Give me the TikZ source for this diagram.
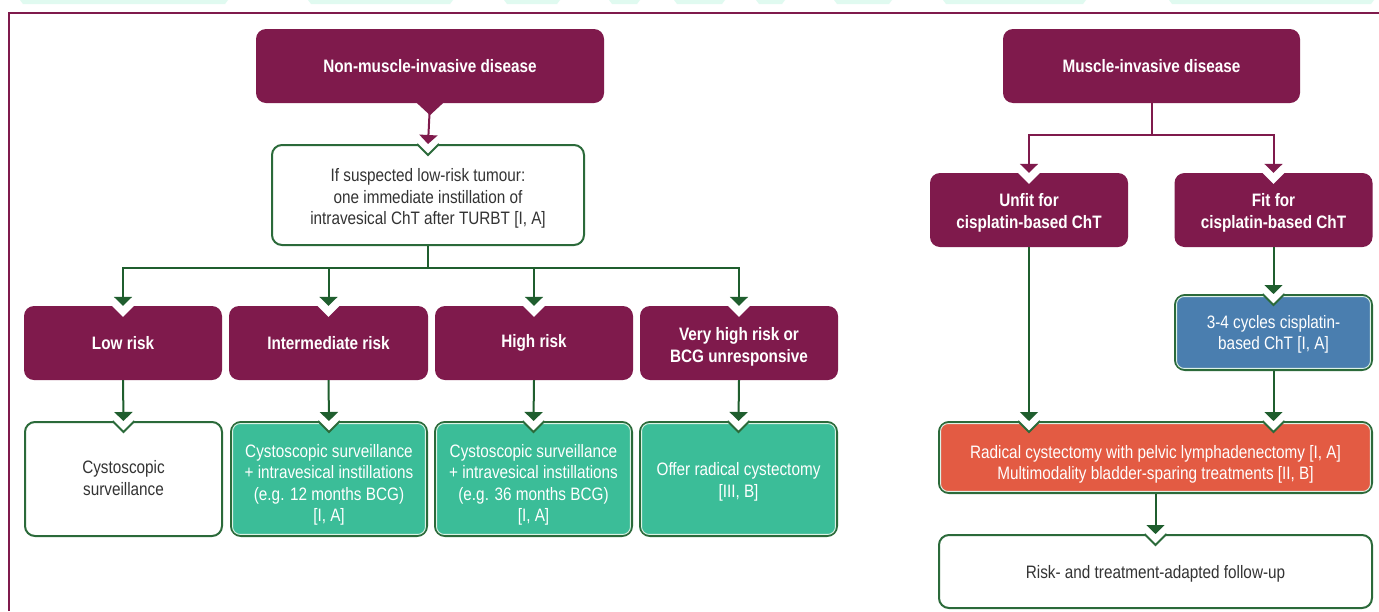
\documentclass[tikz,border=0pt]{standalone}
\usepackage{fontspec}
\setmainfont{Liberation Sans}[FakeStretch=0.85]
\usetikzlibrary{arrows.meta,calc}
\definecolor{maroon}{HTML}{7F1A4C}
\definecolor{dgreen}{HTML}{2B6A3A}
\definecolor{agreen}{HTML}{1F5E2E}
\definecolor{tealc}{HTML}{3BBD98}
\definecolor{bluec}{HTML}{4A7EAF}
\definecolor{redc}{HTML}{E35B43}
\definecolor{txt}{HTML}{333333}
\definecolor{inl}{HTML}{DDF2E6}
\definecolor{pale}{HTML}{E0FAF0}
\tikzset{
  base/.style={rounded corners=10pt, align=center, inner sep=0pt,
    font=\fontsize{18}{21.5}\selectfont},
  mbox/.style={base, fill=maroon, text=white, font=\fontsize{18}{21.5}\selectfont\bfseries},
  wbox/.style={base, fill=white, draw=dgreen, line width=2pt, text=txt},
  tbox/.style={base, fill=tealc, draw=dgreen, line width=2pt, text=white},
  bbox/.style={base, fill=bluec, draw=dgreen, line width=2pt, text=white},
  rbox/.style={base, fill=redc, draw=dgreen, line width=2pt, text=white},
  garrow/.style={draw=agreen, line width=2pt, -{Triangle[width=18pt,length=9pt]}},
  marrow/.style={draw=maroon, line width=2pt, -{Triangle[width=18pt,length=9pt]}},
  gline/.style={draw=agreen, line width=2pt},
  mline/.style={draw=maroon, line width=2pt},
  vline/.style={draw=dgreen, line width=2pt},
}
% text block lowered by #1 without changing its reported size
\newcommand\dropt[2]{\raisebox{-#1}[\height][\depth]{\begin{tabular}{@{}c@{}}#2\end{tabular}}}
\newcommand\innerline[1]{\draw[inl, line width=0.9pt, rounded corners=7.5pt]
  ([shift={(2.6pt,-2.6pt)}]#1.north west) rectangle ([shift={(-2.6pt,2.6pt)}]#1.south east);}
\newcommand\notch[2]{%
  \fill[white] ([shift={(-13.5pt,2.5pt)}]#1) -- ([shift={(13.5pt,2.5pt)}]#1) -- ([shift={(0pt,-11pt)}]#1) -- cycle;
  \draw[#2] ([shift={(-11pt,0pt)}]#1) -- ([shift={(0pt,-11pt)}]#1) -- ([shift={(11pt,0pt)}]#1);}
\begin{document}
\begin{tikzpicture}[x=1pt,y=-1pt]
\useasboundingbox (0,0) rectangle (1379,611);
\fill[white] (0,0) rectangle (1379,611);
% faint strip at the top
\foreach \a/\b in {20/228,308/453,504/560,609/640,674/725,756/785,834/892,943/1086,1169/1374}
  \fill[pale] (\a,0) -- (\b,0) -- (\b-3,4) -- (\a+3,4) -- cycle;
% frame
\draw[maroon, line width=2pt] (9,611) -- (9,13) -- (1379,13);

% ---------- left part ----------
\node[mbox, minimum width=348pt, minimum height=74pt] (nmi) at (430,66) {Non-muscle-invasive disease};
\fill[maroon] ([shift={(-14pt,1pt)}]nmi.south) -- ([shift={(14pt,1pt)}]nmi.south) -- ([yshift=-12pt]nmi.south) -- cycle;

\node[wbox, minimum width=312pt, minimum height=100pt] (ifs) at (428,195)
  {\dropt{4pt}{If suspected low-risk tumour:\\one immediate instillation of\\intravesical ChT after TURBT [I, A]}};

\node[mbox, minimum width=198pt, minimum height=74pt] (low) at (123,343) {Low risk};
\node[mbox, minimum width=199pt, minimum height=74pt] (int) at (328.5,343) {Intermediate risk};
\node[mbox, minimum width=198pt, minimum height=74pt] (high) at (534,343) {High risk};
\node[mbox, minimum width=198pt, minimum height=74pt] (vhr) at (739,343) {\dropt{4pt}{Very high risk or\\BCG unresponsive}};

\node[wbox, minimum width=197pt, minimum height=114pt] (cs) at (123.5,479) {\dropt{1pt}{Cystoscopic\\surveillance}};
\node[tbox, minimum width=196pt, minimum height=114pt] (int2) at (329,479)
  {\dropt{6pt}{Cystoscopic surveillance\\+ intravesical instillations\\(e.g. 12 months BCG)\\{[I, A]}}};
\node[tbox, minimum width=197pt, minimum height=114pt] (high2) at (533.5,479)
  {\dropt{6pt}{Cystoscopic surveillance\\+ intravesical instillations\\(e.g. 36 months BCG)\\{[I, A]}}};
\node[tbox, minimum width=197pt, minimum height=114pt] (vhr2) at (738.5,479)
  {\dropt{3pt}{Offer radical cystectomy\\{[III, B]}}};

% ---------- right part ----------
\node[mbox, minimum width=297pt, minimum height=74pt] (mi) at (1151.5,66) {Muscle-invasive disease};
\node[mbox, minimum width=198pt, minimum height=74pt] (unfit) at (1029,210) {\dropt{3pt}{Unfit for\\cisplatin-based ChT}};
\node[mbox, minimum width=198pt, minimum height=74pt] (fit) at (1273.5,210) {\dropt{3pt}{Fit for\\cisplatin-based ChT}};
\node[bbox, minimum width=197pt, minimum height=75pt] (cis) at (1273.5,332.5) {\dropt{2pt}{3-4 cycles cisplatin-\\based ChT [I, A]}};
\node[rbox, minimum width=433pt, minimum height=71pt] (rad) at (1155.5,457.5)
  {\dropt{7pt}{Radical cystectomy with pelvic lymphadenectomy [I, A]\\Multimodality bladder-sparing treatments [II, B]}};
\node[wbox, minimum width=433pt, minimum height=73pt] (fu) at (1155.5,571.5) {\dropt{3pt}{Risk- and treatment-adapted follow-up}};

% inner light lines
\innerline{int2}\innerline{high2}\innerline{vhr2}\innerline{cis}\innerline{rad}

% notches
\coordinate (n1) at (unfit.south |- rad.north);
\coordinate (n2) at (cis.south |- rad.north);
\notch{ifs.north}{vline}
\notch{low.north}{draw=none}
\notch{int.north}{draw=none}
\notch{high.north}{draw=none}
\notch{vhr.north}{draw=none}
\notch{cs.north}{vline}
\notch{int2.north}{vline}
\notch{high2.north}{vline}
\notch{vhr2.north}{vline}
\notch{unfit.north}{draw=none}
\notch{fit.north}{draw=none}
\notch{cis.north}{vline}
\notch{n1}{vline}
\notch{n2}{vline}
\notch{fu.north}{vline}

% connectors left
\draw[marrow] (nmi.south) -- (ifs.north);
\coordinate (lj) at (ifs.south |- 0,268);
\draw[gline] (ifs.south) -- (lj);
\draw[garrow] (lj) -| (low.north);
\draw[garrow] (lj) -| (int.north);
\draw[garrow] (lj) -| (high.north);
\draw[garrow] (lj) -| (vhr.north);
\draw[garrow] (low.south) -- (cs.north);
\draw[garrow] (int.south) -- (int2.north);
\draw[garrow] (high.south) -- (high2.north);
\draw[garrow] (vhr.south) -- (vhr2.north);

% connectors right
\coordinate (rj) at (mi.south |- 0,135);
\draw[mline] (mi.south) -- (rj);
\draw[marrow] (rj) -| (unfit.north);
\draw[marrow] (rj) -| (fit.north);
\draw[garrow] (unfit.south) -- (n1);
\draw[garrow] (fit.south) -- (cis.north);
\draw[garrow] (cis.south) -- (n2);
\draw[garrow] (rad.south) -- (fu.north);
\end{tikzpicture}
\end{document}
